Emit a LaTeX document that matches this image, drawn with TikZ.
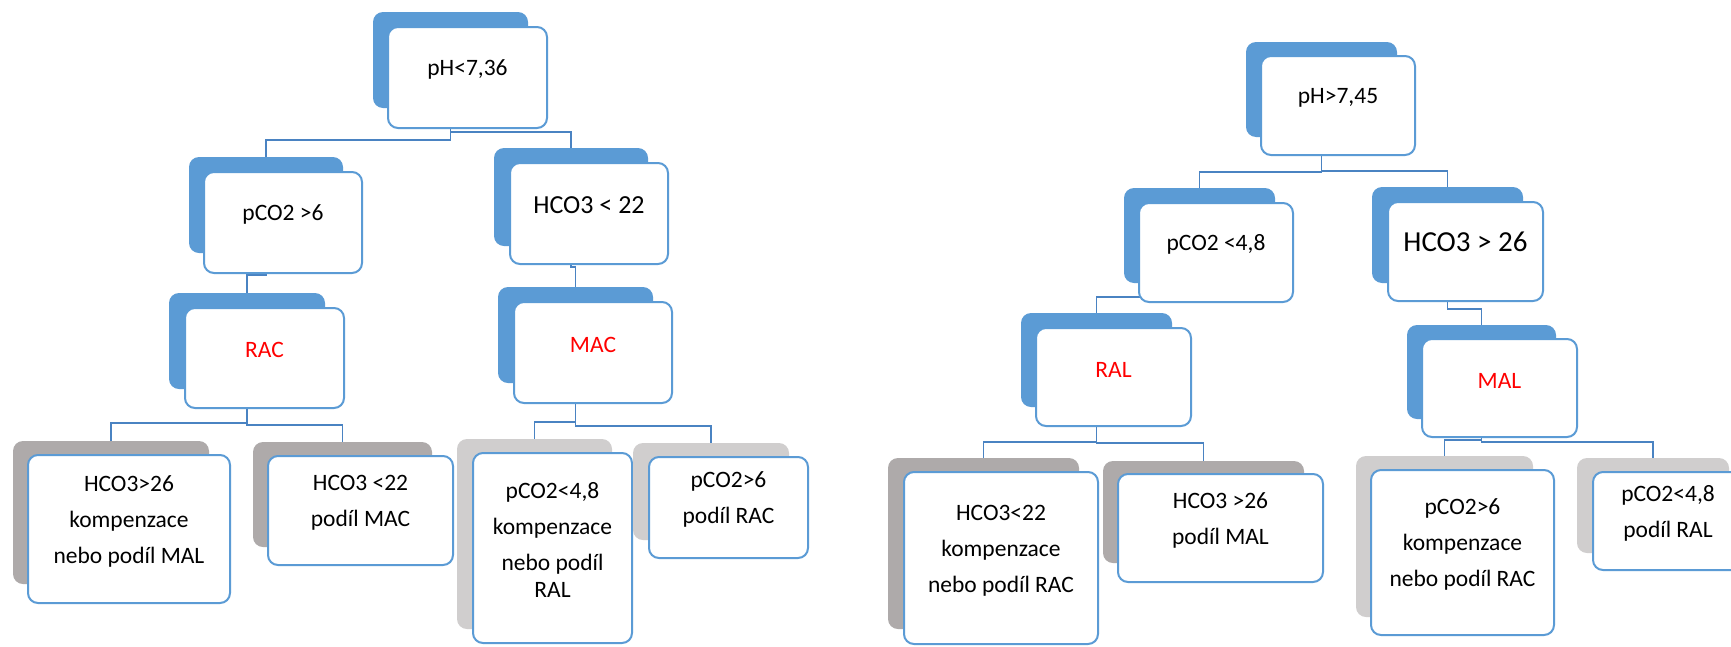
\documentclass[tikz,border=0pt]{standalone}
\usepackage{fontspec}
\setmainfont{Carlito}
\usetikzlibrary{fit}
\definecolor{accent}{HTML}{5B9BD5}
\definecolor{connc}{HTML}{4A83C2}
\definecolor{dgray}{HTML}{AEAAAA}
\definecolor{lgray}{HTML}{D0CECE}
\definecolor{redt}{HTML}{FF0000}
\pgfdeclarelayer{bg}
\pgfsetlayers{bg,main}
\tikzset{
  shadowbox/.style={inner sep=0pt, rounded corners=10pt, draw=none},
  frontbox/.style={inner sep=0pt, rounded corners=10pt, fill=white, draw=accent,
    line width=2pt, align=center, font=\fontsize{23.5pt}{36pt}\selectfont},
  conn/.style={draw=connc, line width=1.9pt},
  redtxt/.style={text=redt},
}
\begin{document}
\begin{tikzpicture}[x=1pt,y=-1pt]
\useasboundingbox (0,0) rectangle (1731,646);
\clip (0,0) rectangle (1731,646);
\begin{pgfonlayer}{bg}
\fill[white] (0,0) rectangle (1731,646);
\end{pgfonlayer}
% ---------- left tree ----------
\node[shadowbox, fill=accent, fit={(373,12) (528,108)}] (L0s) {};
\node[frontbox, fit={(388,27) (547,128)}] (L0) {pH<7,36};
\node[shadowbox, fill=accent, fit={(189,157) (343,253)}] (L1as) {};
\node[frontbox, fit={(204,172) (362,273)}] (L1a) {pCO2 >6};
\node[shadowbox, fill=accent, fit={(494,148) (648,246)}] (L1bs) {};
\node[frontbox, fit={(510,163) (668,264)}, font=\fontsize{26pt}{30pt}\selectfont] (L1b) {HCO3 < 22};
\node[shadowbox, fill=accent, fit={(169,293) (325,389)}] (L2as) {};
\node[frontbox, redtxt, fit={(185,308) (344,408)}] (L2a) {RAC};
\node[shadowbox, fill=accent, fit={(498,287) (653,383)}] (L2bs) {};
\node[frontbox, redtxt, fit={(514,302) (672,403)}] (L2b) {MAC};
\node[shadowbox, fill=dgray, fit={(13,441) (209,584)}] (B1s) {};
\node[frontbox, fit={(28,455) (230,603)}] (B1) {HCO3>26\\kompenzace\\nebo podíl MAL};
\node[shadowbox, fill=dgray, fit={(253,442) (432,547)}] (B2s) {};
\node[frontbox, fit={(268,456) (453,565)}] (B2) {HCO3 <22\\podíl MAC};
\node[shadowbox, fill=lgray, fit={(457,439) (612,629)}] (B3s) {};
\node[frontbox, fit={(473,453) (632,643)}] (B3) {pCO2<4,8\\kompenzace\\nebo podíl\\[-9pt]RAL};
\node[shadowbox, fill=lgray, fit={(633,443) (789,540)}] (B4s) {};
\node[frontbox, fit={(649,457) (808,558)}] (B4) {pCO2>6\\podíl RAC};
% ---------- right tree ----------
\node[shadowbox, fill=accent, fit={(1246,42) (1397,137)}] (R0s) {};
\node[frontbox, fit={(1261,56) (1415,155)}] (R0) {pH>7,45};
\node[shadowbox, fill=accent, fit={(1124,188) (1275,283)}] (R1as) {};
\node[frontbox, fit={(1139,203) (1293,302)}] (R1a) {pCO2 <4,8};
\node[shadowbox, fill=accent, fit={(1372,187) (1523,283)}] (R1bs) {};
\node[frontbox, fit={(1388,202) (1543,301)}, font=\fontsize{29pt}{33pt}\selectfont] (R1b) {HCO3 > 26};
\node[shadowbox, fill=accent, fit={(1021,313) (1172,407)}] (R2as) {};
\node[frontbox, redtxt, fit={(1036,328) (1191,426)}] (R2a) {RAL};
\node[shadowbox, fill=accent, fit={(1407,325) (1556,419)}] (R2bs) {};
\node[frontbox, redtxt, fit={(1422,339) (1577,437)}] (R2b) {MAL};
\node[shadowbox, fill=dgray, fit={(888,458) (1079,629)}] (C1s) {};
\node[frontbox, fit={(904,472) (1098,644)}] (C1) {HCO3<22\\kompenzace\\nebo podíl RAC};
\node[shadowbox, fill=dgray, fit={(1103,461) (1304,563)}] (C2s) {};
\node[frontbox, fit={(1118,474) (1323,582)}] (C2) {HCO3 >26\\podíl MAL};
\node[shadowbox, fill=lgray, fit={(1356,456) (1533,617)}] (C3s) {};
\node[frontbox, fit={(1371,470) (1554,635)}] (C3) {pCO2>6\\kompenzace\\nebo podíl RAC};
\node[shadowbox, fill=lgray, fit={(1577,458) (1729,553)}] (C4s) {};
\node[frontbox, fit={(1593,472) (1743,570)}] (C4) {pCO2<4,8\\podíl RAL};
% ---------- connectors ----------
\begin{pgfonlayer}{bg}
\draw[conn] (L0s.south) -- ++(0,32) -| (L1as.north);
\draw[conn] (L0s.south) -- ++(0,24) -| (L1bs.north);
\draw[conn] (L1as.south) -- ++(0,22) -| (L2as.north);
\draw[conn] (L1bs.south) -- ++(0,21) -| (L2bs.north);
\draw[conn] (L2as.south) -- ++(0,34) -| (B1s.north);
\draw[conn] (L2as.south) -- ++(0,36) -| (B2s.north);
\draw[conn] (L2bs.south) -- ++(0,39) -| (B3s.north);
\draw[conn] (L2bs.south) -- ++(0,43) -| (B4s.north);
\draw[conn] (R0s.south) -- ++(0,35) -| (R1as.north);
\draw[conn] (R0s.south) -- ++(0,34) -| (R1bs.north);
\draw[conn] (R1as.south) -- ++(0,14) -| (R2as.north);
\draw[conn] (R1bs.south) -- ++(0,26) -| (R2bs.north);
\draw[conn] (R2as.south) -- ++(0,35) -| (C1s.north);
\draw[conn] (R2as.south) -- ++(0,36) -| (C2s.north);
\draw[conn] (R2bs.south) -- ++(0,21) -| (C3s.north);
\draw[conn] (R2bs.south) -- ++(0,23) -| (C4s.north);
\end{pgfonlayer}
\end{tikzpicture}
\end{document}
